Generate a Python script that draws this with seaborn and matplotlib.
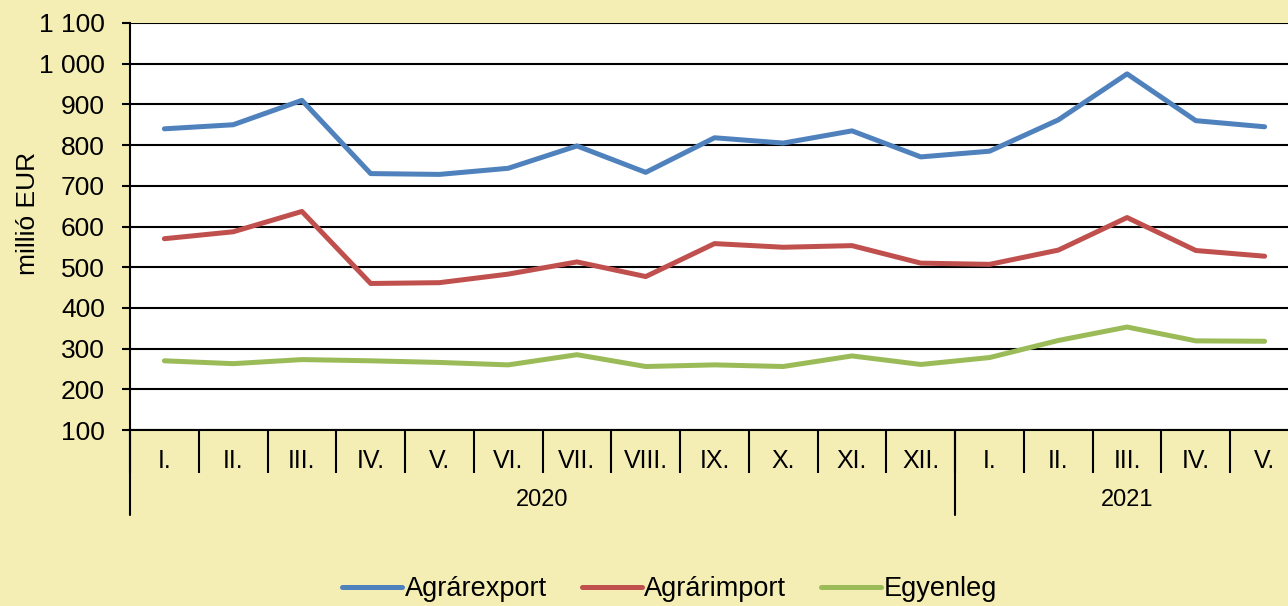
import pandas as pd
import matplotlib
matplotlib.use("Agg")
import matplotlib.pyplot as plt
import matplotlib.transforms as mtransforms
import seaborn as sns

# data (millió EUR)
months = ["I.", "II.", "III.", "IV.", "V.", "VI.", "VII.", "VIII.", "IX.", "X.", "XI.", "XII.",
          "I.", "II.", "III.", "IV.", "V."]
years = ["2020", "2021"]
year_lengths = [12, 5]
export_vals = [840, 850, 910, 730, 728, 743, 798, 733, 818, 805, 835, 771, 785, 862, 975, 860, 845]
import_vals = [570, 587, 637, 460, 462, 483, 513, 477, 558, 549, 553, 510, 507, 542, 622, 541, 527]
balance_vals = [270, 263, 273, 270, 266, 260, 285, 256, 260, 256, 282, 261, 278, 320, 353, 319, 318]
series_names = ["Agrárexport", "Agrárimport", "Egyenleg"]
colors = ["#4F81BD", "#C0504D", "#9BBB59"]

BG = "#F4EEB4"

sns.set_theme(style="white")
plt.rcParams["font.family"] = ["Liberation Sans", "DejaVu Sans"]
plt.rcParams["text.color"] = "black"
plt.rcParams["xtick.color"] = "black"
plt.rcParams["ytick.color"] = "black"
plt.rcParams["axes.labelcolor"] = "black"

rows = []
for name, vals in zip(series_names, [export_vals, import_vals, balance_vals]):
    for i, v in enumerate(vals):
        rows.append({"pos": i, "value": v, "series": name})
df = pd.DataFrame(rows)

fig = plt.figure(figsize=(12.88, 6.06), dpi=100, facecolor=BG)
ax = fig.add_axes([130 / 1288, 1 - 430 / 606, 1169 / 1288, 407 / 606])
ax.set_facecolor("white")

sns.lineplot(data=df, x="pos", y="value", hue="series", palette=colors,
             linewidth=3.6, ax=ax, legend=False)

n = len(months)
ax.set_xlim(-0.5, n - 0.5)
ax.set_ylim(100, 1100)
yticks = list(range(100, 1101, 100))
ax.set_yticks(yticks)
ax.set_yticklabels([f"{t:,}".replace(",", " ") for t in yticks], fontsize=19)
ax.yaxis.grid(True, color="black", linewidth=1.5)
ax.set_axisbelow(True)
ax.tick_params(axis="y", direction="out", length=6, width=1.5, color="black", pad=12, left=True)

# month labels and separators
ax.set_xticks(range(n))
ax.set_xticklabels(months, fontsize=18)
ax.tick_params(axis="x", which="major", length=0, pad=14)
ax.set_xticks([i - 0.5 for i in range(n + 1)], minor=True)
ax.tick_params(axis="x", which="minor", direction="out", length=31, width=1.5, color="black", bottom=True)

for side in ["top", "right"]:
    ax.spines[side].set_visible(False)
for side in ["left", "bottom"]:
    ax.spines[side].set_color("black")
    ax.spines[side].set_linewidth(1.5)

ax.set_xlabel("")
ax.set_ylabel("millió EUR", fontsize=19)
ax.yaxis.set_label_coords(-0.077, 0.533)

# year level
trans = mtransforms.blended_transform_factory(ax.transData, ax.transAxes)
start = 0
bounds = [-0.5]
for y, ln in zip(years, year_lengths):
    ax.text(start + (ln - 1) / 2, -0.172, y, transform=trans, ha="center", va="center", fontsize=17)
    start += ln
    bounds.append(start - 0.5)
for b in bounds[:-1]:
    ax.plot([b, b], [0, -0.21], transform=trans, color="black", linewidth=1.5, clip_on=False)

handles = [plt.Line2D([], [], color=c, linewidth=3.6) for c in colors]
fig.legend(handles, series_names, loc="center", bbox_to_anchor=(0.52, 0.028), ncol=3,
           frameon=False, fontsize=19.5, handlelength=2.2, handletextpad=0.1, columnspacing=1.3)

fig.savefig("out.png", dpi=100, facecolor=BG)
